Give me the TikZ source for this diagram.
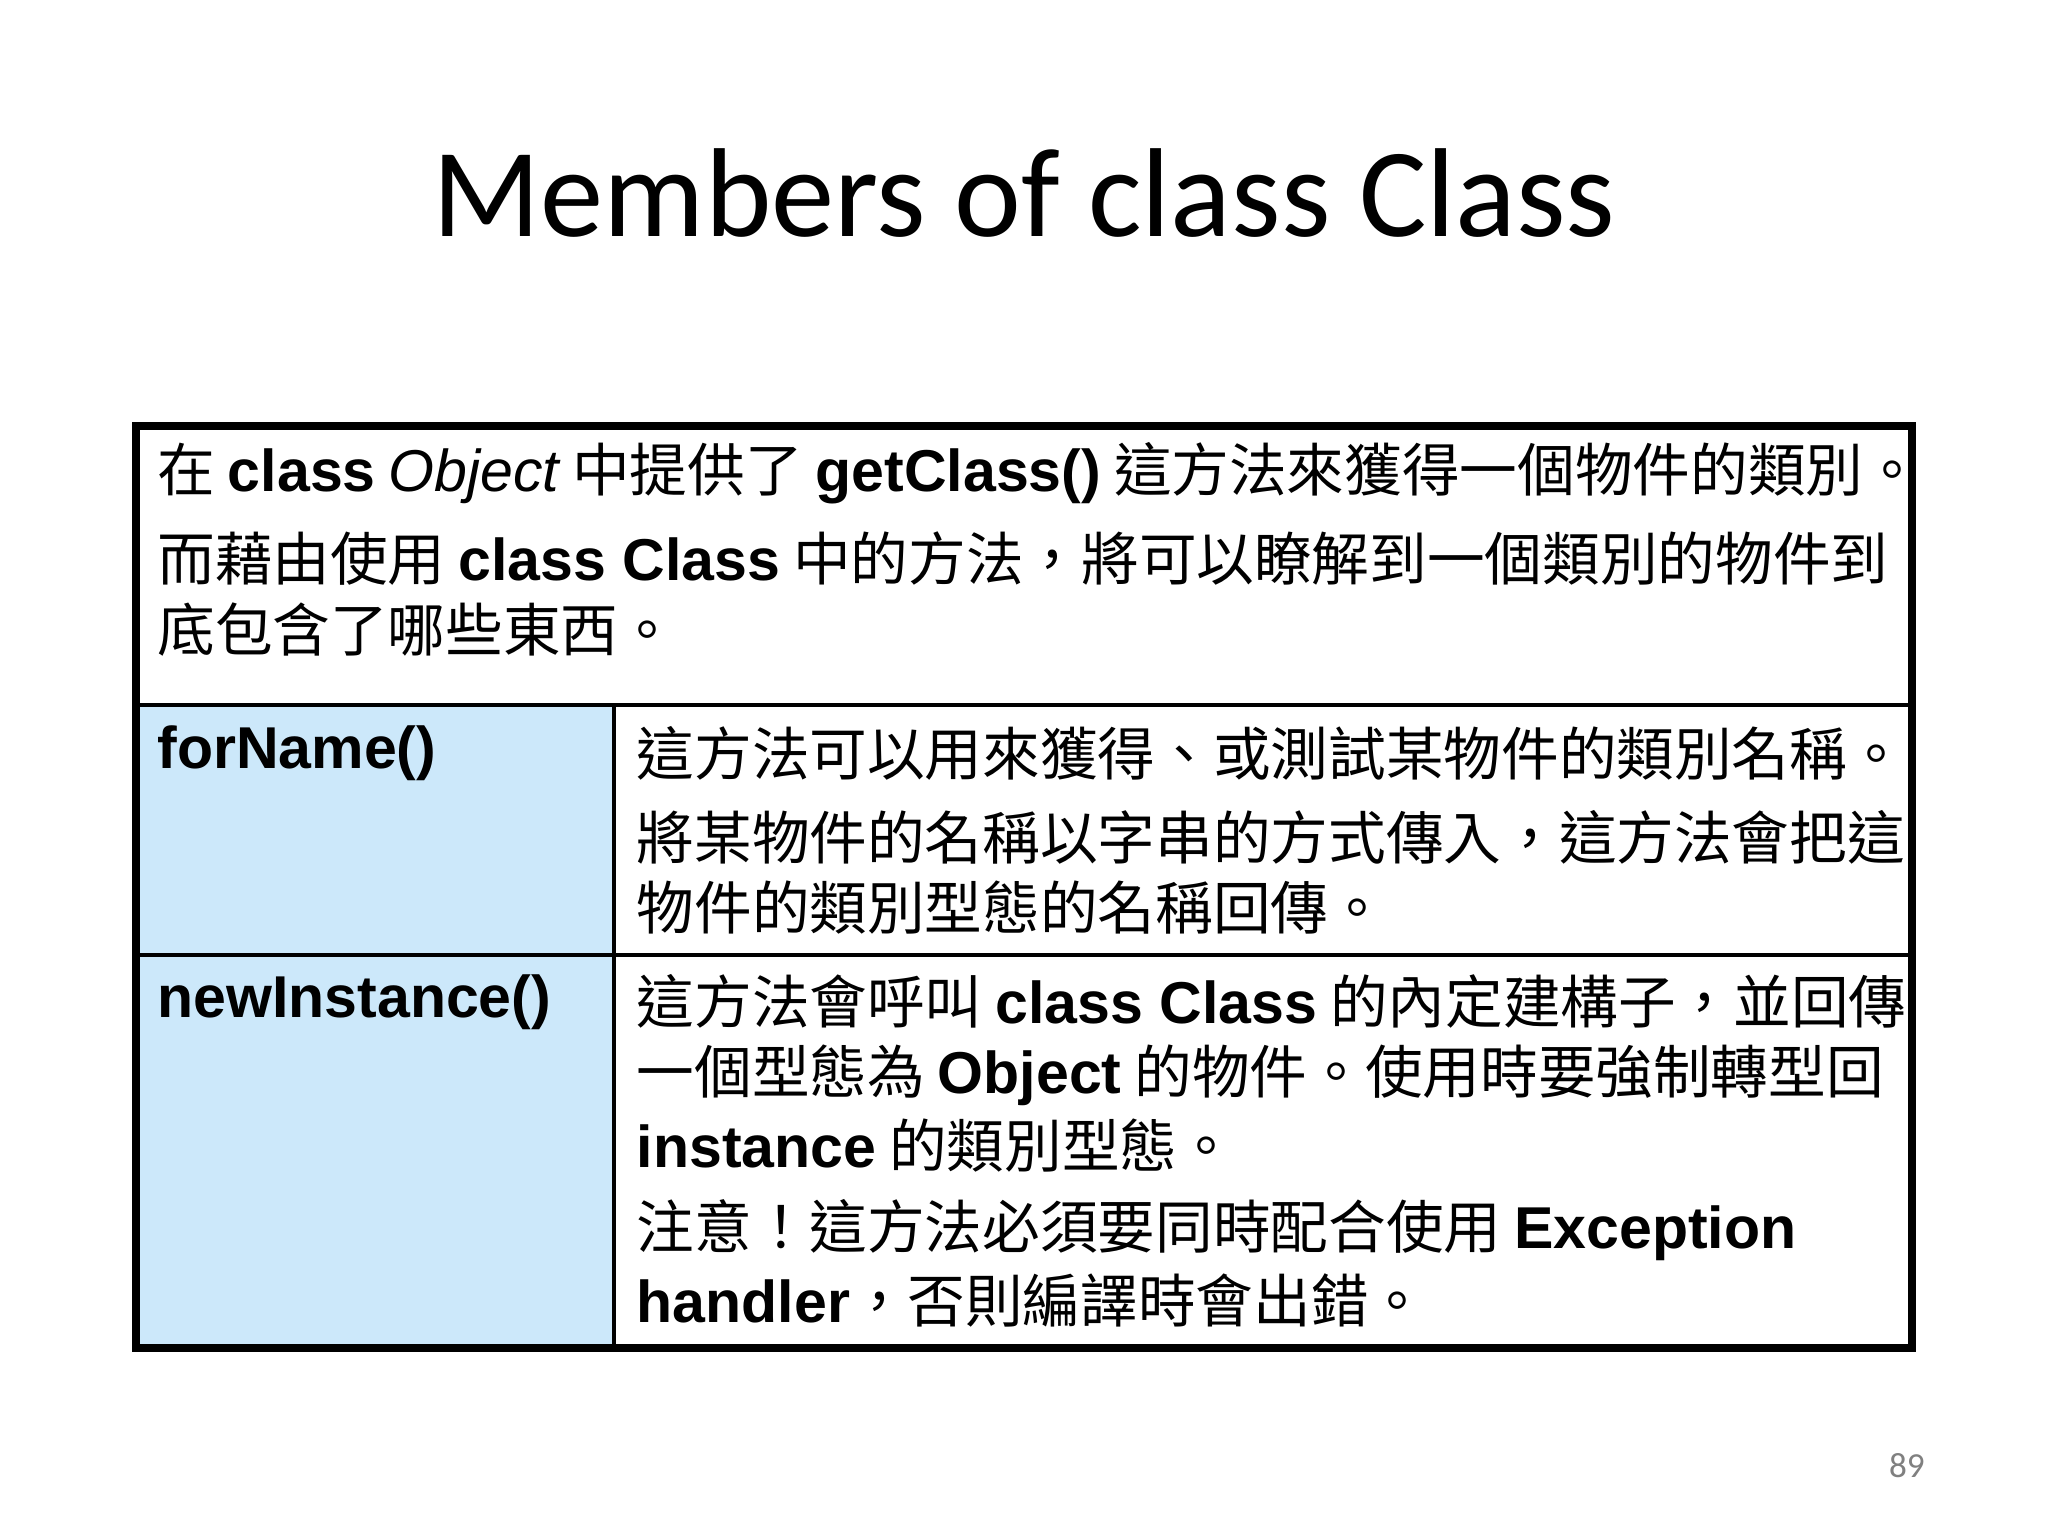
\documentclass[tikz,border=0pt]{standalone}
\usepackage{fontspec}
\setmainfont{Noto Sans CJK TC}
\newfontfamily\lat{Liberation Sans}
\newfontfamily\ttl{Carlito}
\definecolor{cellblue}{HTML}{CCE8FA}
\begin{document}
\begin{tikzpicture}[x=0.01306cm,y=-0.01306cm,
  ln/.style={anchor=west,inner sep=0pt,font=\fontsize{16.4}{19}\selectfont}]
\newcommand{\bb}[1]{{\lat\bfseries\fontsize{16.8}{19}\selectfont #1}}
\useasboundingbox (0,0) rectangle (1568,1176);
\fill[white] (0,0) rectangle (1568,1176);
\fill[cellblue] (104,540) rectangle (470,1032);
\node[font=\ttl\fontsize{36}{42}\selectfont] (title) at (784,148) {Members of class Class};
\draw[line width=1.2pt] (104,540) -- (1464,540) (104,731) -- (1464,731) (470,540) -- (470,1032);
\draw[line width=2.2pt] (104,326) rectangle (1464,1032);
\node[ln] (a1) at (120,362) {在 \bb{class} {\lat\itshape\fontsize{16.8}{19}\selectfont Object} 中提供了 \bb{getClass()} 這方法來獲得一個物件的類別。};
\node[ln] (a2) at (120,428) {而藉由使用 \bb{class Class} 中的方法，將可以瞭解到一個類別的物件到};
\node[ln] (a3) at (120,482) {底包含了哪些東西。};
\node[ln] (f) at (120,577) {\bb{forName()}};
\node[ln] (f1) at (487,577) {這方法可以用來獲得、或測試某物件的類別名稱。};
\node[ln] (f2) at (487,641) {將某物件的名稱以字串的方式傳入，這方法會把這};
\node[ln] (f3) at (487,695) {物件的類別型態的名稱回傳。};
\node[ln] (n) at (120,767) {\bb{newInstance()}};
\node[ln] (n1) at (487,767) {這方法會呼叫 \bb{class Class} 的內定建構子，並回傳};
\node[ln] (n2) at (487,823) {一個型態為 \bb{Object} 的物件。使用時要強制轉型回};
\node[ln] (n3) at (487,877) {\bb{instance} 的類別型態。};
\node[ln] (n4) at (487,942) {注意！這方法必須要同時配合使用 \bb{Exception}};
\node[ln] (n5) at (487,996) {\bb{handler}，否則編譯時會出錯。};
\node[font=\ttl\fontsize{10}{12}\selectfont,text=gray] (pg) at (1460,1122) {89};
\end{tikzpicture}
\end{document}
